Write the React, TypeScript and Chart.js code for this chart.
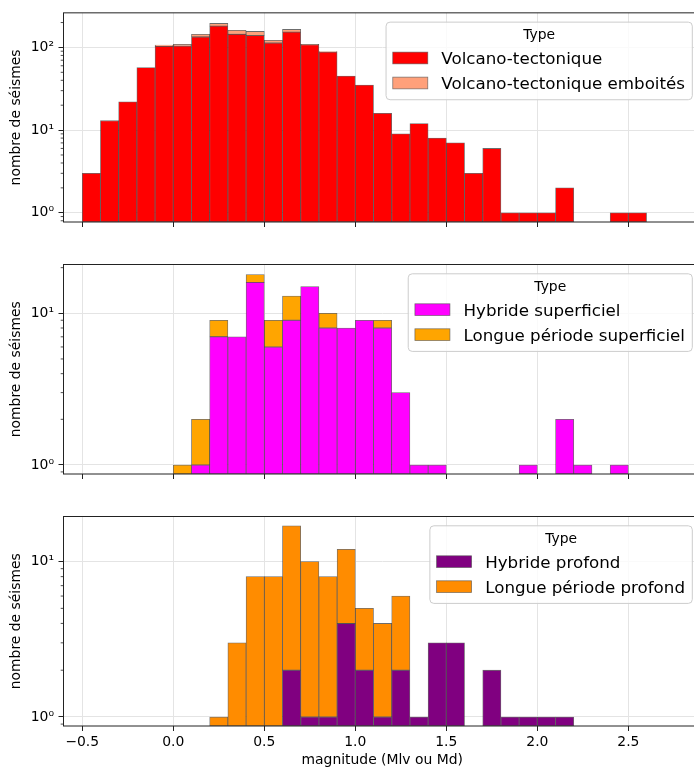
import React, { useEffect, useRef } from "react";
import { Chart, registerables } from "chart.js";

Chart.register(...registerables);

// Histogram bins (width 0.1), given by their centres
const binCenters = [
  -0.45, -0.35, -0.25, -0.15, -0.05, 0.05, 0.15, 0.25, 0.35, 0.45, 0.55,
  0.65, 0.75, 0.85, 0.95, 1.05, 1.15, 1.25, 1.35, 1.45, 1.55, 1.65, 1.75,
  1.85, 1.95, 2.05, 2.15, 2.25, 2.35, 2.45, 2.55,
];

// Event counts per bin
const volcanoTectonique = [
  3, 13, 22, 57, 103, 104, 134, 181, 144, 139, 113, 153, 108, 88, 45, 35, 16,
  9, 12, 8, 7, 3, 6, 1, 1, 1, 2, 0, 0, 1, 1,
];
const volcanoTectoniqueEmboites = [
  0, 0, 0, 0, 4, 5, 10, 14, 17, 17, 9, 12, 1, 1, 0, 0, 0, 0, 0, 0, 0, 0, 0,
  0, 0, 0, 0, 0, 0, 0, 0,
];
const hybrideSuperficiel = [
  0, 0, 0, 0, 0, 0, 1, 7, 7, 16, 6, 9, 15, 8, 8, 9, 8, 3, 1, 1, 0, 0, 0, 0,
  1, 0, 2, 1, 0, 1, 0,
];
const longuePeriodeSuperficiel = [
  0, 0, 0, 0, 0, 1, 1, 2, 0, 2, 3, 4, 0, 2, 0, 0, 1, 0, 0, 0, 0, 0, 0, 0, 0,
  0, 0, 0, 0, 0, 0,
];
const hybrideProfond = [
  0, 0, 0, 0, 0, 0, 0, 0, 0, 0, 0, 2, 1, 1, 4, 2, 1, 2, 1, 3, 3, 0, 2, 1, 1,
  1, 1, 0, 0, 0, 0,
];
const longuePeriodeProfond = [
  0, 0, 0, 0, 0, 0, 0, 1, 3, 8, 8, 15, 9, 7, 8, 3, 3, 4, 0, 0, 0, 0, 0, 0, 0,
  0, 0, 0, 0, 0, 0,
];

// Axis ticks
const xTicks = [-0.5, 0, 0.5, 1, 1.5, 2, 2.5];
const xTickLabels = ["\u22120.5", "0.0", "0.5", "1.0", "1.5", "2.0", "2.5"];
const yMajorTicks = [1, 10, 100];
const yMajorLabels = ["10\u2070", "10\u00b9", "10\u00b2"];
const yMinorTicks = [
  0.8, 0.9, 2, 3, 4, 5, 6, 7, 8, 9, 20, 30, 40, 50, 60, 70, 80, 90, 200,
];

const X_MIN = -0.603;
const X_MAX = 2.899;

const FIG_W = 694;
const FIG_H = 770;
const CANVAS_W = 702;
const AXIS_LEFT = 63.5;
const FONT = "'DejaVu Sans', 'Liberation Sans', sans-serif";

type Series = { label: string; values: number[]; color: string };
type PanelSpec = {
  top: number;
  bottom: number;
  yMin: number;
  yMax: number;
  showXLabels: boolean;
  series: Series[];
};

const panels: PanelSpec[] = [
  {
    top: 12,
    bottom: 222,
    yMin: 0.773,
    yMax: 262,
    showXLabels: false,
    series: [
      { label: "Volcano-tectonique", values: volcanoTectonique, color: "#ff0000" },
      {
        label: "Volcano-tectonique emboités",
        values: volcanoTectoniqueEmboites,
        color: "#ffa07a",
      },
    ],
  },
  {
    top: 264.5,
    bottom: 474,
    yMin: 0.872,
    yMax: 20.98,
    showXLabels: false,
    series: [
      { label: "Hybride superficiel", values: hybrideSuperficiel, color: "#ff00ff" },
      {
        label: "Longue période superficiel",
        values: longuePeriodeSuperficiel,
        color: "#ffa500",
      },
    ],
  },
  {
    top: 516.5,
    bottom: 726,
    yMin: 0.875,
    yMax: 19.5,
    showXLabels: true,
    series: [
      { label: "Hybride profond", values: hybrideProfond, color: "#800080" },
      {
        label: "Longue période profond",
        values: longuePeriodeProfond,
        color: "#ff8c00",
      },
    ],
  },
];

// Small log-scale minor tick marks on the left spine
const minorTicksPlugin = {
  id: "minorTicks",
  afterDraw(chart: any) {
    const y = chart.scales.y;
    const { left } = chart.chartArea;
    const ctx = chart.ctx;
    ctx.save();
    ctx.strokeStyle = "#222";
    ctx.lineWidth = 0.8;
    for (const v of yMinorTicks) {
      if (v < y.min || v > y.max) continue;
      const p = y.getPixelForValue(v);
      ctx.beginPath();
      ctx.moveTo(left - 2.8, p);
      ctx.lineTo(left, p);
      ctx.stroke();
    }
    ctx.restore();
  },
};

// Four spines around the plotting area
const framePlugin = {
  id: "frame",
  afterDatasetsDraw(chart: any) {
    const { left, right, top, bottom } = chart.chartArea;
    const ctx = chart.ctx;
    ctx.save();
    ctx.strokeStyle = "#222";
    ctx.lineWidth = 1;
    ctx.strokeRect(left, top, right - left, bottom - top);
    ctx.restore();
  },
};

// Boxed legend with a title, in the upper right corner
const boxLegendPlugin = {
  id: "boxLegend",
  afterDraw(chart: any, _args: any, opts: any) {
    const ctx = chart.ctx;
    const { right, top } = chart.chartArea;
    const entryFont = `16.7px ${FONT}`;
    const titleFont = `13.9px ${FONT}`;
    const datasets = chart.data.datasets;
    ctx.save();
    ctx.font = entryFont;
    let maxW = 0;
    for (const ds of datasets) maxW = Math.max(maxW, ctx.measureText(ds.label).width);
    const boxW = 55.3 + maxW + 7.3;
    const boxH = 77.6;
    const bx = right - 8.7 - boxW;
    const by = top + 9.3;

    ctx.beginPath();
    ctx.roundRect(bx, by, boxW, boxH, 4);
    ctx.fillStyle = "rgba(255,255,255,0.8)";
    ctx.fill();
    ctx.strokeStyle = "#cccccc";
    ctx.lineWidth = 1;
    ctx.stroke();

    ctx.fillStyle = "#000";
    ctx.font = titleFont;
    ctx.textAlign = "center";
    ctx.textBaseline = "alphabetic";
    ctx.fillText(opts.title, bx + boxW / 2, by + 17);

    ctx.font = entryFont;
    ctx.textAlign = "left";
    datasets.forEach((ds: any, i: number) => {
      const sy = by + 30 + i * 25;
      ctx.fillStyle = ds.backgroundColor;
      ctx.fillRect(bx + 6.7, sy, 35, 11.7);
      ctx.strokeStyle = "rgba(80,80,80,0.7)";
      ctx.lineWidth = 0.8;
      ctx.strokeRect(bx + 6.7, sy, 35, 11.7);
      ctx.fillStyle = "#000";
      ctx.fillText(ds.label, bx + 55.3, by + 42.3 + i * 25);
    });
    ctx.restore();
  },
};

function HistogramPanel({ spec }: { spec: PanelSpec }) {
  const ref = useRef<HTMLCanvasElement>(null);

  useEffect(() => {
    if (!ref.current) return;
    const tickFont = { family: FONT, size: 13.9 };
    const chart = new Chart(ref.current, {
      type: "bar",
      data: {
        datasets: spec.series.map((s) => ({
          label: s.label,
          // empty bins are left out so that no zero-height outline is drawn
          data: binCenters.map((x, i) => ({ x, y: s.values[i] > 0 ? s.values[i] : null })),
          backgroundColor: s.color,
          borderColor: "rgba(45,45,45,0.7)",
          borderWidth: 0.8,
          borderSkipped: false,
          barPercentage: 1,
          categoryPercentage: 1,
        })),
      },
      options: {
        responsive: false,
        animation: false,
        events: [],
        layout: {
          autoPadding: false,
          padding: { top: spec.top, left: 0, right: CANVAS_W - 701, bottom: 0 },
        },
        plugins: {
          legend: { display: false },
          tooltip: { enabled: false },
          boxLegend: { title: "Type" },
        } as any,
        scales: {
          x: {
            type: "linear",
            stacked: true,
            offset: false,
            bounds: "data",
            min: X_MIN,
            max: X_MAX,
            afterBuildTicks: (s: any) => {
              s.ticks = xTicks.map((v) => ({ value: v }));
            },
            afterFit: (s: any) => {
              s.height = FIG_H - spec.bottom;
            },
            ticks: {
              display: spec.showXLabels,
              autoSkip: false,
              maxRotation: 0,
              padding: 3.5,
              color: "#000",
              font: tickFont,
              callback: (v: any) => xTickLabels[xTicks.indexOf(Number(v))] ?? "",
            },
            grid: {
              offset: false,
              color: "#e4e4e4",
              lineWidth: 1,
              drawTicks: true,
              tickLength: 5,
              tickColor: "#222",
              tickWidth: 1,
            },
            border: { display: false },
            title: {
              display: spec.showXLabels,
              text: "magnitude (Mlv ou Md)",
              color: "#000",
              font: tickFont,
              padding: { top: 0, bottom: 1 },
            },
          },
          y: {
            type: "logarithmic",
            stacked: true,
            bounds: "data",
            beginAtZero: false,
            min: spec.yMin,
            max: spec.yMax,
            afterBuildTicks: (s: any) => {
              s.ticks = yMajorTicks
                .filter((v) => v >= spec.yMin && v <= spec.yMax)
                .map((v) => ({ value: v, major: true }));
            },
            afterFit: (s: any) => {
              s.width = AXIS_LEFT;
            },
            ticks: {
              autoSkip: false,
              padding: 4.5,
              color: "#000",
              font: tickFont,
              callback: (v: any) => yMajorLabels[yMajorTicks.indexOf(Number(v))] ?? "",
            },
            grid: {
              color: "#e4e4e4",
              lineWidth: 1,
              drawTicks: true,
              tickLength: 5,
              tickColor: "#222",
              tickWidth: 1,
            },
            border: { display: false },
            title: {
              display: true,
              text: "nombre de séismes",
              color: "#000",
              font: tickFont,
              padding: { top: 8.4, bottom: 0 },
            },
          },
        },
      } as any,
      plugins: [minorTicksPlugin, framePlugin, boxLegendPlugin],
    });
    return () => chart.destroy();
  }, [spec]);

  return (
    <canvas
      ref={ref}
      width={CANVAS_W}
      height={FIG_H}
      style={{ position: "absolute", left: 0, top: 0, width: CANVAS_W, height: FIG_H }}
    />
  );
}

export default function App() {
  return (
    <div
      style={{
        position: "absolute",
        left: 0,
        top: 0,
        width: FIG_W,
        height: FIG_H,
        overflow: "hidden",
        background: "#ffffff",
      }}
    >
      {panels.map((p, i) => (
        <HistogramPanel key={i} spec={p} />
      ))}
    </div>
  );
}
